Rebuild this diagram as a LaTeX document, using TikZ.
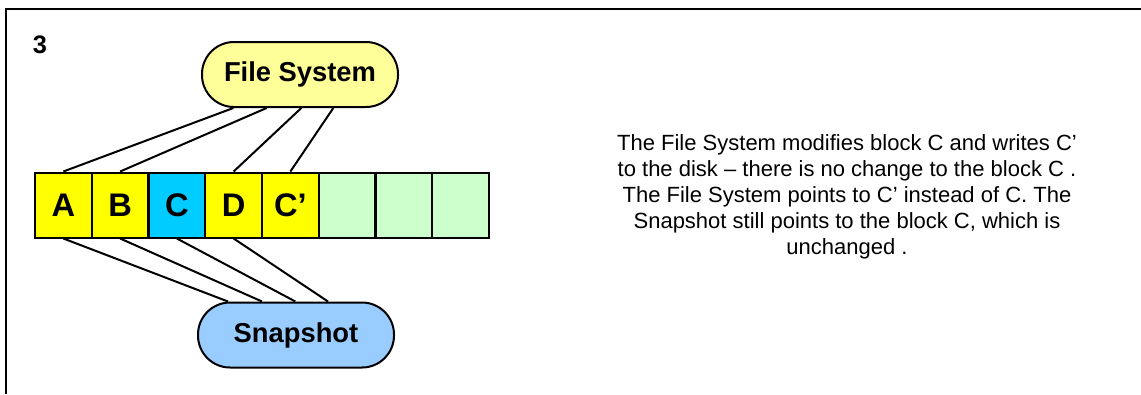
\documentclass[tikz,border=0pt]{standalone}
\usepackage{fontspec}
\setmainfont{Liberation Sans}
\usetikzlibrary{positioning,calc}
\definecolor{fsyellow}{HTML}{FFFF99}
\definecolor{snapblue}{HTML}{99CCFF}
\definecolor{blkyellow}{HTML}{FFFF00}
\definecolor{blkcyan}{HTML}{00CCFF}
\definecolor{blkfree}{HTML}{CCFFCC}

\begin{document}
\begin{tikzpicture}[x=0.75pt, y=-0.75pt, line width=1.5pt,
  blk/.style={draw, minimum width=42.5pt, minimum height=48.75pt, inner sep=0pt,
    font=\bfseries\fontsize{24.5}{28}\selectfont},
  pill/.style={draw, rounded corners=24pt, minimum width=147pt, minimum height=48.75pt,
    font=\bfseries\fontsize{20.5}{24}\selectfont}]
  \useasboundingbox (0,0) rectangle (1141,394);
  \draw[line width=1.8pt] (6,394) -- (6,9) -- (1141,9);
  \node[font=\bfseries\fontsize{19}{23}\selectfont] (num) at (40,45) {3};
  \node[pill, fill=fsyellow] (fs) at (300,74.5) {File System};
  \node[pill, fill=snapblue] (snap) at (296,335) {Snapshot};
  \foreach \i/\lbl/\col in {1/A/blkyellow, 2/B/blkyellow, 3/C/blkcyan, 4/D/blkyellow,
      5/C’/blkyellow, 6//blkfree, 7//blkfree, 8//blkfree}
  {
    \node[blk, fill=\col] (b\i) at (6.625+56.75*\i,205) {\lbl};
  }
  \draw ([xshift=-50pt]fs.south) -- (b1.north);
  \draw ([xshift=-25pt]fs.south) -- (b2.north);
  \draw ([xshift=1pt]fs.south) -- (b4.north);
  \draw ([xshift=25pt]fs.south) -- (b5.north);
  \draw ([xshift=-51pt]snap.north) -- (b1.south);
  \draw ([xshift=-25.5pt]snap.north) -- (b2.south);
  \draw ([xshift=-0.5pt]snap.north) -- (b3.south);
  \draw ([xshift=24pt]snap.north) -- (b4.south);
  \node[align=center, font=\fontsize{16.5}{19.4}\selectfont] (note) at (847,197)
    {The File System modifies block C and writes C’\\
     to the disk – there is no change to the block C .\\
     The File System points to C’ instead of C. The\\
     Snapshot still points to the block C, which is\\
     unchanged .};
\end{tikzpicture}
\end{document}
